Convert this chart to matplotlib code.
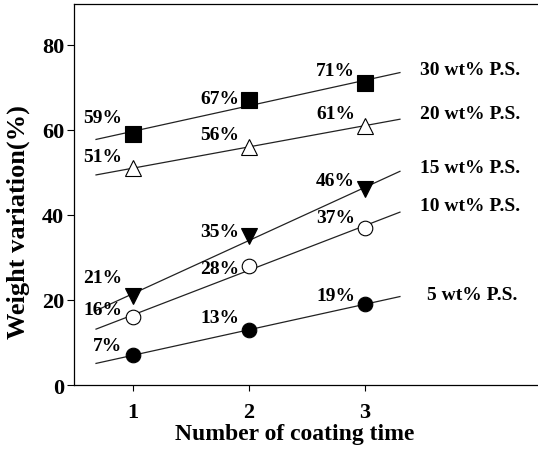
import matplotlib.pyplot as plt
import numpy as np

plt.rcParams['font.family'] = ['Liberation Serif', 'DejaVu Serif']
plt.rcParams['font.weight'] = 'bold'

coating = [1, 2, 3]
series_names = ['30 wt% P.S.', '20 wt% P.S.', '15 wt% P.S.', '10 wt% P.S.', '5 wt% P.S.']
ps30 = [59, 67, 71]
ps20 = [51, 56, 61]
ps15 = [21, 35, 46]
ps10 = [16, 28, 37]
ps5 = [7, 13, 19]
values = [ps30, ps20, ps15, ps10, ps5]

# marker styles per series: (marker, facecolor)
styles = [('s', 'black'), ('^', 'white'), ('v', 'black'), ('o', 'white'), ('o', 'black')]

# label offsets in pixels (dx of right edge, dy of centre) per point
offsets = [
    [(-11, 17), (-10, 2), (-10, 13)],
    [(-11, 12), (-10, 12), (-10, 12)],
    [(-11, 18), (-10, 5), (-10, 9)],
    [(-11, 7), (-10, -3), (-10, 10)],
    [(-11, 10), (-10, 12), (-10, 9)],
]
# where the series names go (data coords)
name_pos = [(3.47, 74.2), (3.47, 63.8), (3.47, 51.2), (3.47, 42.2), (3.53, 21.2)]

fig = plt.figure(figsize=(5.38, 4.52), dpi=100)
ax = fig.add_axes([0.1375, 0.146, 0.8625, 0.843])

xfit = np.array([0.68, 3.3])
for i, v in enumerate(values):
    m, face = styles[i]
    k, b = np.polyfit(coating, v, 1)
    ax.plot(xfit, k * xfit + b, color='#222222', linewidth=0.9, zorder=2)
    ax.plot(coating, v, linestyle='none', marker=m, markersize=11 if m != 'o' else 10.5,
            markerfacecolor=face, markeredgecolor='black', markeredgewidth=0.8, zorder=3)
    for j, (x, y) in enumerate(zip(coating, v)):
        dx, dy = offsets[i][j]
        ax.annotate('%d%%' % y, (x, y), xytext=(dx, dy), textcoords='offset pixels',
                    ha='right', va='center', fontsize=14, fontweight='bold')
    ax.text(name_pos[i][0], name_pos[i][1], series_names[i], ha='left', va='center',
            fontsize=14, fontweight='bold')

ax.set_xlim(0.49, 4.49)
ax.set_ylim(0, 89.6)
ax.set_xticks([1, 2, 3])
ax.set_yticks([0, 20, 40, 60, 80])
ax.tick_params(axis='both', labelsize=16, direction='out', width=0.8)
ax.tick_params(axis='y', length=5, pad=2)
ax.tick_params(axis='x', length=4, pad=8)
for lab in ax.get_xticklabels() + ax.get_yticklabels():
    lab.set_fontweight('bold')
ax.spines['right'].set_visible(False)
for s in ['left', 'bottom', 'top']:
    ax.spines[s].set_linewidth(0.9)

ax.set_xlabel('Number of coating time', fontsize=17, fontweight='bold')
ax.set_ylabel('Weight variation(%)', fontsize=19, fontweight='bold')
ax.xaxis.set_label_coords(0.476, -0.1)
ax.yaxis.set_label_coords(-0.095, 0.43)

fig.savefig('out.png', dpi=100)
